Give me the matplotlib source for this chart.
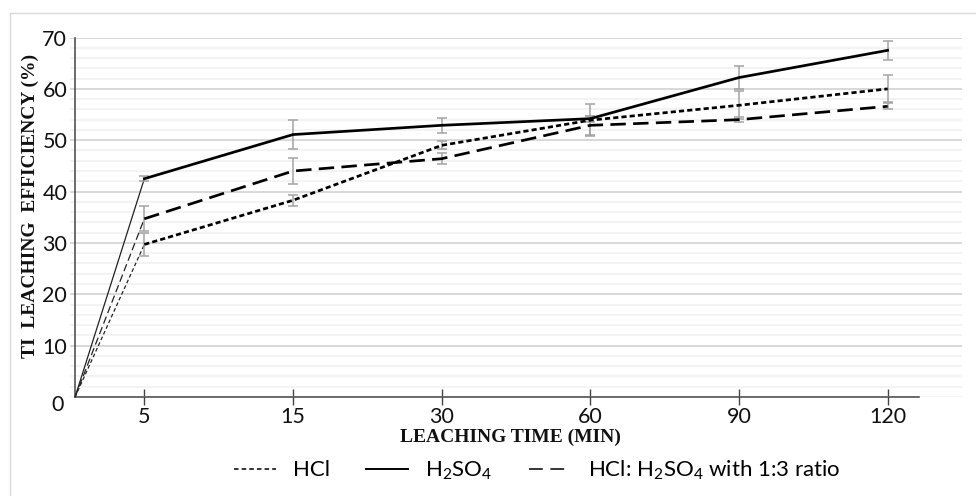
import matplotlib
matplotlib.use("Agg")
import matplotlib.pyplot as plt
from matplotlib.lines import Line2D
import numpy as np

plt.rcParams['font.family'] = ['Lato', 'DejaVu Sans']
plt.rcParams['mathtext.fontset'] = 'custom'
plt.rcParams['mathtext.rm'] = 'Lato'
plt.rcParams['mathtext.it'] = 'Lato:italic'
plt.rcParams['mathtext.bf'] = 'Lato:bold'

# Leaching time categories (min)
times = ['5', '15', '30', '60', '90', '120']

# Ti leaching efficiency (%) and error values per leachant
hcl = [29.7, 38.3, 49.0, 53.9, 56.8, 60.0]
hcl_err = [2.3, 1.1, 0.8, 3.1, 2.7, 2.65]
h2so4 = [42.5, 51.1, 52.9, 54.2, 62.2, 67.5]
h2so4_err = [0.5, 2.85, 1.5, 0.6, 2.2, 1.8]
mix = [34.7, 44.0, 46.4, 52.9, 54.0, 56.6]
mix_err = [2.4, 2.6, 1.1, 1.9, 0.55, 0.6]

# Starting point of every curve (time 0, efficiency 0)
start_value = 0

y_ticks = [10, 20, 30, 40, 50, 60, 70]

W, H = 976, 496
fig = plt.figure(figsize=(W / 100, H / 100), dpi=100)
fig.patch.set_facecolor('white')

ax_left, ax_right = 70 / W, 962 / W
ax_bottom, ax_top = 1 - 397 / H, 1 - 37.5 / H
ax = fig.add_axes([ax_left, ax_bottom, ax_right - ax_left, ax_top - ax_bottom])

x = np.arange(len(times))
origin_x = -0.466
axis_end = 5.21

ax.set_xlim(-0.5, len(times) - 0.5)
ax.set_ylim(0, 70)

# grid
ax.set_yticks(np.arange(0, 71, 10))
ax.set_yticks(np.arange(0, 71, 2), minor=True)
ax.grid(axis='y', which='major', color='#d6d6d6', lw=1.3, zorder=0)
ax.grid(axis='y', which='minor', color='#f1f1f1', lw=1.2, zorder=0)
ax.set_axisbelow(True)
for s in ax.spines.values():
    s.set_visible(False)

ax.set_yticks(y_ticks)
ax.set_yticklabels([str(v) for v in y_ticks], fontsize=15.5)
ax.tick_params(axis='y', which='both', length=0, pad=2, labelcolor='#111111')

ax.set_xticks(x)
ax.set_xticklabels(times, fontsize=15.5)
ax.tick_params(axis='x', direction='inout', length=12, width=1.0,
               color='#444444', pad=1, labelcolor='#111111')

# axis lines drawn from the origin
ax.plot([origin_x, origin_x], [0, 70], color='#444444', lw=1.1,
        clip_on=False, zorder=3)
ax.plot([origin_x, axis_end], [0, 0], color='#444444', lw=1.1,
        clip_on=False, zorder=3)
fig.text(58 / W, 1 - 405 / H, '0', fontsize=15.5, ha='center', va='center',
         color='#111111')

dot_style = (0, (1.9, 1.15))
dash_style = (0, (5.7, 2.7))
lw_main = 1.95

# initial thin segments from origin to the first sample
thin = 0.9
ax.plot([origin_x, x[0]], [start_value, h2so4[0]], color='#222222', lw=thin, zorder=4)
ax.plot([origin_x, x[0]], [start_value, mix[0]], color='#222222', lw=thin,
        linestyle=(0, (6, 3)), zorder=4)
ax.plot([origin_x, x[0]], [start_value, hcl[0]], color='#222222', lw=thin,
        linestyle=(0, (3, 2)), zorder=4)

err_kw = dict(fmt='none', ecolor='#a3a3a3', elinewidth=1.1, capsize=3.8,
              capthick=1.1, zorder=5)
ax.errorbar(x, h2so4, yerr=h2so4_err, **err_kw)
ax.errorbar(x, hcl, yerr=hcl_err, **err_kw)
ax.errorbar(x, mix, yerr=mix_err, **err_kw)

ax.plot(x, h2so4, color='black', lw=lw_main, zorder=6)
ax.plot(x, hcl, color='black', lw=lw_main, linestyle=dot_style, zorder=6)
ax.plot(x, mix, color='black', lw=lw_main, linestyle=dash_style, zorder=6)

# axis titles
fig.text(30 / W, 1 - 206 / H, 'TI  LEACHING  EFFICIENCY (%)', rotation=90,
         family='Liberation Serif', weight='bold', fontsize=14,
         ha='center', va='center', color='#111111')
fig.text(510 / W, 1 - 437 / H, 'LEACHING TIME (MIN)',
         family='Liberation Serif', weight='bold', fontsize=14,
         ha='center', va='center', color='#111111')

# legend
handles = [
    Line2D([], [], color='black', lw=1.1, linestyle=(0, (3, 2))),
    Line2D([], [], color='black', lw=1.4),
    Line2D([], [], color='black', lw=1.1, linestyle=(0, (9, 5))),
]
labels = ['HCl', r'H$_\mathregular{2}$SO$_\mathregular{4}$',
          r'HCl: H$_\mathregular{2}$SO$_\mathregular{4}$ with 1:3 ratio']
fig.legend(handles, labels, loc='center', bbox_to_anchor=(537 / W, 1 - 470 / H),
           ncol=3, frameon=False, fontsize=16, handlelength=1.9,
           handletextpad=0.74, columnspacing=1.65)

# outer chart frame
fig.add_artist(Line2D([10 / W, 10 / W], [0, 1 - 13 / H], color='#d9d9d9',
                      lw=1.0, transform=fig.transFigure))
fig.add_artist(Line2D([10 / W, 1], [1 - 13 / H, 1 - 13 / H], color='#d9d9d9',
                      lw=1.0, transform=fig.transFigure))

fig.savefig('out.png', dpi=100)
